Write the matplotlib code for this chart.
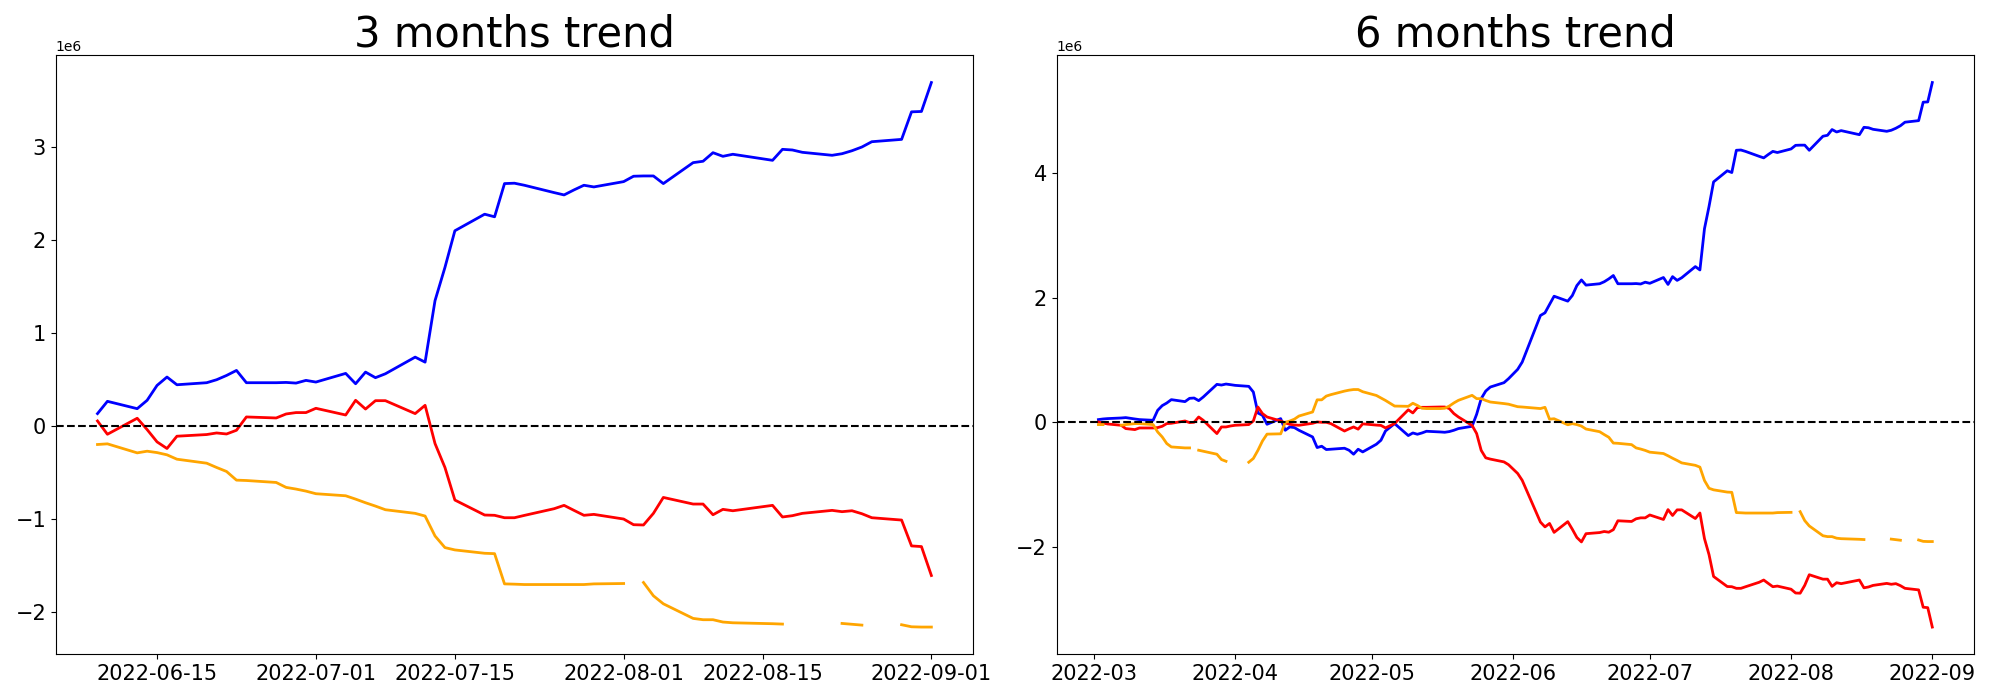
import numpy as np
import pandas as pd
import matplotlib
matplotlib.use("Agg")
import matplotlib.pyplot as plt
import matplotlib.dates as mdates

nan = np.nan

# ---------------- 3 months (values in millions) ----------------
dates_3m = pd.bdate_range("2022-06-09", "2022-09-01", freq="C", holidays=["2022-08-15"])

blue_3m = [0.134, 0.266, 0.187, 0.277, 0.437, 0.527, 0.444, 0.466, 0.498, 0.544, 0.598, 0.466,
           0.466, 0.469, 0.462, 0.491, 0.473, 0.566, 0.455, 0.580, 0.520, 0.562, 0.741, 0.687,
           1.348, 1.705, 2.099, 2.277, 2.249, 2.606, 2.610, 2.588, 2.509, 2.484, 2.538, 2.588,
           2.570, 2.627, 2.685, 2.688, 2.688, 2.606, 2.831, 2.846, 2.938, 2.899, 2.921, 2.856,
           2.974, 2.967, 2.942, 2.910, 2.927, 2.959, 2.999, 3.056, 3.081, 3.377, 3.381, 3.692]
red_3m = [0.055, -0.088, 0.084, -0.038, -0.170, -0.241, -0.109, -0.091, -0.074, -0.085, -0.045, 0.098,
          0.087, 0.130, 0.145, 0.145, 0.191, 0.119, 0.277, 0.183, 0.273, 0.273, 0.134, 0.223,
          -0.188, -0.445, -0.795, -0.956, -0.959, -0.985, -0.985, -0.960, -0.888, -0.852, -0.906, -0.959,
          -0.949, -0.999, -1.060, -1.063, -0.938, -0.767, -0.838, -0.838, -0.953, -0.895, -0.910, -0.852,
          -0.977, -0.963, -0.938, -0.906, -0.920, -0.910, -0.942, -0.985, -1.010, -1.288, -1.295, -1.606]
orange_3m = [-0.198, -0.191, -0.288, -0.270, -0.285, -0.309, -0.356, -0.399, -0.445, -0.488, -0.581, -0.585,
             -0.606, -0.659, -0.677, -0.699, -0.727, -0.749, -0.785, -0.824, -0.860, -0.899, -0.938, -0.967,
             -1.181, -1.306, -1.331, -1.367, -1.371, -1.696, -1.699, -1.703, -1.703, -1.703, -1.703, -1.703,
             -1.696, -1.692, nan, -1.681, -1.824, -1.910, -2.067, -2.081, -2.081, -2.106, -2.114, -2.124,
             -2.128, nan, nan, nan, -2.121, -2.130, -2.139, nan, -2.135, -2.157, -2.160, -2.160]

# ---------------- 6 months (values in millions) ----------------
dates_6m = pd.bdate_range("2022-03-02", "2022-09-01", freq="C",
                          holidays=["2022-03-09", "2022-05-05", "2022-06-01", "2022-06-06", "2022-08-15"])

blue_6m = [0.043, 0.053, 0.059, 0.069, 0.075, 0.053, 0.043, 0.032, 0.192, 0.267, 0.309, 0.363,
           0.331, 0.384, 0.389, 0.347, 0.405, 0.608, 0.597, 0.613, 0.603,
           0.592, 0.576, 0.485, 0.149, 0.112, -0.032, 0.059, -0.128, -0.075, -0.085, -0.128, -0.235,
           -0.405, -0.384, -0.437, -0.432, -0.416, -0.448, -0.512, -0.432, -0.475,
           -0.352, -0.288, -0.139, -0.021, -0.213, -0.171, -0.192, -0.171, -0.144, -0.155, -0.160, -0.149,
           -0.128, -0.101, -0.064, 0.128, 0.379, 0.501, 0.565, 0.635, 0.699,
           0.848, 0.965, 1.712, 1.755,
           1.889, 2.021, 1.942, 2.032, 2.192, 2.282, 2.199, 2.221, 2.253, 2.299, 2.353, 2.221,
           2.221, 2.224, 2.217, 2.246, 2.228, 2.321, 2.210, 2.335, 2.275, 2.317, 2.496, 2.442,
           3.103, 3.460, 3.854, 4.032, 4.004, 4.361, 4.365, 4.343, 4.264, 4.239, 4.293, 4.343,
           4.325, 4.382, 4.440, 4.443, 4.443, 4.361, 4.586, 4.601, 4.693, 4.654, 4.676, 4.611,
           4.729, 4.722, 4.697, 4.665, 4.682, 4.714, 4.754, 4.811, 4.836, 5.132, 5.136, 5.447]
red_6m = [0.005, -0.011, -0.027, -0.048, -0.101, -0.117, -0.091, -0.091, -0.085, -0.064, -0.021, -0.016,
          0.021, -0.005, 0.000, 0.085, 0.032, -0.181, -0.075, -0.075, -0.059,
          -0.048, -0.037, 0.021, 0.245, 0.139, 0.085, 0.021, -0.011, -0.032, -0.043, -0.048, -0.016,
          0.005, 0.000, 0.000, -0.021, -0.140, -0.105, -0.075, -0.110, -0.025,
          -0.045, -0.050, -0.090, -0.020, 0.200, 0.150, 0.235, 0.240, 0.240, 0.245, 0.245, 0.220,
          0.140, 0.085, -0.050, -0.180, -0.450, -0.570, -0.590, -0.635, -0.680,
          -0.820, -0.930, -1.600, -1.677,
          -1.622, -1.765, -1.593, -1.715, -1.847, -1.918, -1.786, -1.768, -1.751, -1.762, -1.722, -1.579,
          -1.590, -1.547, -1.532, -1.532, -1.486, -1.558, -1.400, -1.494, -1.404, -1.404, -1.543, -1.454,
          -1.865, -2.122, -2.472, -2.633, -2.636, -2.662, -2.662, -2.637, -2.565, -2.529, -2.583, -2.636,
          -2.626, -2.676, -2.737, -2.740, -2.615, -2.444, -2.515, -2.515, -2.630, -2.572, -2.587, -2.529,
          -2.654, -2.640, -2.615, -2.583, -2.597, -2.587, -2.619, -2.662, -2.687, -2.965, -2.972, -3.283]
orange_6m = [-0.037, -0.037, nan, -0.048, -0.037, -0.021, -0.021, -0.037, -0.155, -0.235, -0.341, -0.395,
             -0.411, -0.411, nan, -0.448, -0.464, -0.512, -0.597, -0.625, nan,
             nan, -0.640, -0.580, -0.450, -0.300, -0.190, -0.185, 0.000, 0.020, 0.050, 0.100, 0.165,
             0.360, 0.360, 0.420, 0.443, 0.500, 0.515, 0.525, 0.525, 0.490,
             0.430, 0.390, 0.350, 0.260, 0.256, 0.305, 0.270, 0.225, 0.220, 0.220, 0.225, 0.260,
             0.310, 0.352, 0.432, 0.379, 0.379, 0.350, 0.325, 0.300, 0.290,
             0.250, 0.245, 0.220, 0.240,
             0.050, 0.057, -0.040, -0.022, -0.037, -0.061, -0.108, -0.151, -0.197, -0.240, -0.333, -0.337,
             -0.358, -0.411, -0.429, -0.451, -0.479, -0.501, -0.537, -0.576, -0.612, -0.651, -0.690, -0.719,
             -0.933, -1.058, -1.083, -1.119, -1.123, -1.448, -1.451, -1.455, -1.455, -1.455, -1.455, -1.455,
             -1.448, -1.444, nan, -1.433, -1.576, -1.662, -1.819, -1.833, -1.833, -1.858, -1.866, -1.876,
             -1.880, nan, nan, nan, -1.873, -1.882, -1.891, nan, -1.887, -1.909, -1.912, -1.912]

titles = ["3 months trend", "6 months trend"]
series_colors = ["blue", "red", "orange"]

fig, axes = plt.subplots(1, 2, figsize=(20, 7), dpi=100)
fig.subplots_adjust(left=0.0279, right=0.987, bottom=0.0653, top=0.921, wspace=0.0912)

panels = [
    (dates_3m, [blue_3m, red_3m, orange_3m]),
    (dates_6m, [blue_6m, red_6m, orange_6m]),
]

for ax, (dts, series), title in zip(axes, panels, titles):
    for vals, col in zip(series, series_colors):
        ax.plot(dts, np.array(vals, dtype=float) * 1e6, color=col, linewidth=2)
    ax.axhline(0, color="black", linestyle="--", linewidth=1.5)
    ax.set_title(title, fontsize=30)
    ax.tick_params(labelsize=15)

axes[0].xaxis.set_major_locator(mdates.DayLocator(bymonthday=[1, 15]))
axes[0].xaxis.set_major_formatter(mdates.DateFormatter("%Y-%m-%d"))
axes[1].xaxis.set_major_locator(mdates.MonthLocator())
axes[1].xaxis.set_major_formatter(mdates.DateFormatter("%Y-%m"))

fig.savefig("out.png", dpi=100)
